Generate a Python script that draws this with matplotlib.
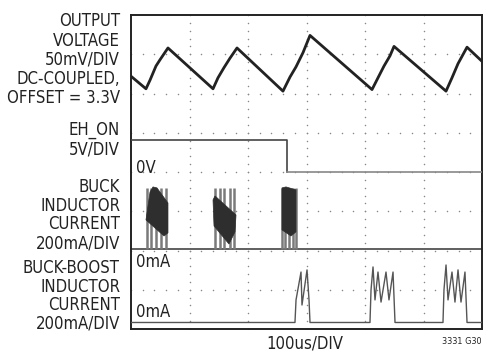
import matplotlib
matplotlib.use("Agg")
import matplotlib.pyplot as plt
import numpy as np

plt.rcParams['font.family'] = ['DejaVu Sans']
plt.rcParams['font.stretch'] = 'condensed'

# scope settings: 100us/DIV, 6 x 8 divisions
N_XDIV = 6
N_YDIV = 8
US_PER_DIV = 100

# output voltage (mV relative to 3.3V offset, reference at div 6, 50mV/DIV)
vout_t = [0, 25.6, 32.5, 42.7, 49.6, 63.2, 140.2, 148.7, 159, 169.2, 181.2,
          259.8, 271.8, 282.1, 294, 306, 412, 422.2, 432.5, 442.7, 449.6,
          538.5, 548.7, 559, 574.4, 600]
vout_mv = [22, 6, 17, 35, 43, 58, 6, 20, 33, 45, 58,
           3, 21, 34, 52, 74, 5, 20, 35, 48, 60,
           3, 20, 38, 59, 41]
VOUT_REF_DIV = 6.0
VOUT_SCALE = 50.0

# EH_ON (V, 5V/DIV, 0V at div 4)
eh_t = [0, 266.7, 266.7, 600]
eh_v = [4.1, 4.1, 0.0, 0.0]
EH_REF_DIV = 4.0
EH_SCALE = 5.0

# buck inductor current (mA, 200mA/DIV, 0mA at div 2.04)
BUCK_REF_DIV = 2.04
I_SCALE = 200.0
buck_peak = 311
buck_bars = [[27.4, 35, 42.7, 51.3, 59.8],
             [143.6, 152.1, 159.8, 168.4, 176.9],
             [258.1, 264.1, 270.1, 276.9, 282.9]]
buck_env_t = [[25.6, 32.5, 37.6, 44.4, 63.2, 63.2, 56.4],
              [140.2, 143.6, 179.5, 177.8, 167.5, 141.9],
              [258.1, 265, 282, 282, 273.5, 258.1]]
buck_env_ma = [[148, 290, 316, 311, 234, 82, 66],
               [250, 270, 173, 87, 25, 117],
               [311, 316, 301, 87, 66, 97]]

# buck-boost inductor current (mA, 200mA/DIV, 0mA at div 0.166)
BB_REF_DIV = 0.166
bb_t = [0, 280.3, 282.1, 290.6, 292.3, 300.9, 304.3, 306,
        408.5, 410.3, 413.7, 417.1, 422.2, 427.4, 435.9, 441, 447.9, 451.3,
        533.3, 535, 538.5, 541.9, 548.7, 553.8, 559, 564.1, 570.9, 574.4, 600]
bb_ma = [0, 0, 115, 257, 89, 268, 115, 0,
         0, 166, 283, 115, 257, 104, 257, 115, 257, 0,
         0, 166, 293, 115, 257, 104, 268, 104, 257, 0, 0]

labels = [
    ("OUTPUT", 21), ("VOLTAGE", 41), ("50mV/DIV", 60), ("DC-COUPLED,", 79),
    ("OFFSET = 3.3V", 98), ("EH_ON", 130), ("5V/DIV", 150),
    ("BUCK", 187), ("INDUCTOR", 206), ("CURRENT", 224), ("200mA/DIV", 243),
    ("BUCK-BOOST", 268), ("INDUCTOR", 287), ("CURRENT", 305), ("200mA/DIV", 324),
]

W, H = 496, 353
fig = plt.figure(figsize=(W / 100, H / 100), dpi=100)
ax = fig.add_axes([131 / W, 24 / H, 351 / W, 314 / H])
xmax = N_XDIV * US_PER_DIV
ax.set_xlim(0, xmax)
ax.set_ylim(0, N_YDIV)
ax.set_xticks([])
ax.set_yticks([])
for s in ax.spines.values():
    s.set_linewidth(1.4)
    s.set_color('#222222')

# dotted graticule
for i in range(1, N_XDIV):
    yy = np.arange(0, N_YDIV + 0.01, 0.2)
    ax.scatter(np.full(len(yy), i * US_PER_DIV), yy, s=1.2, color='#888888', lw=0, zorder=1)
for j in range(1, N_YDIV):
    xx = np.arange(0, xmax + 0.01, US_PER_DIV * 0.2)
    ax.scatter(xx, np.full(len(xx), j), s=1.2, color='#888888', lw=0, zorder=1)

# output voltage
vy = VOUT_REF_DIV + np.array(vout_mv) / VOUT_SCALE
ax.plot(vout_t, vy, color='#222222', lw=2.0, zorder=3)

# EH_ON
ey = EH_REF_DIV + np.array(eh_v) / EH_SCALE
ax.plot(eh_t[:3], ey[:3], color='#444444', lw=1.2, zorder=3)
ax.plot(eh_t[2:], ey[2:], color='#888888', lw=1.2, zorder=3)

# buck inductor current
ax.axhline(BUCK_REF_DIV, color='#444444', lw=1.2, zorder=2)
top = BUCK_REF_DIV + buck_peak / I_SCALE
for bars in buck_bars:
    ax.vlines(bars, BUCK_REF_DIV, top, color='#7a7a7a', lw=1.8, zorder=3)
for et, em in zip(buck_env_t, buck_env_ma):
    ax.fill(et, BUCK_REF_DIV + np.array(em) / I_SCALE, color='#2e2e2e', lw=0.5,
            edgecolor='#2e2e2e', zorder=4)

# buck-boost inductor current
by = BB_REF_DIV + np.array(bb_ma) / I_SCALE
ax.plot(bb_t, by, color='#555555', lw=1.0, zorder=3)

# channel text
fs = 12
for txt, ypx in labels:
    fig.text(120 / W, 1 - ypx / H, txt, ha='right', va='center', fontsize=fs, color='#222222')
fig.text(136 / W, 1 - 168 / H, "0V", ha='left', va='center', fontsize=fs, color='#222222')
fig.text(136 / W, 1 - 262 / H, "0mA", ha='left', va='center', fontsize=fs, color='#222222')
fig.text(136 / W, 1 - 312 / H, "0mA", ha='left', va='center', fontsize=fs, color='#222222')
fig.text(305 / W, 1 - 344 / H, "100us/DIV", ha='center', va='center', fontsize=fs, color='#222222')
fig.text(482 / W, 1 - 342 / H, "3331 G30", ha='right', va='center', fontsize=6.5, color='#222222')

fig.savefig("out.png", dpi=100)
